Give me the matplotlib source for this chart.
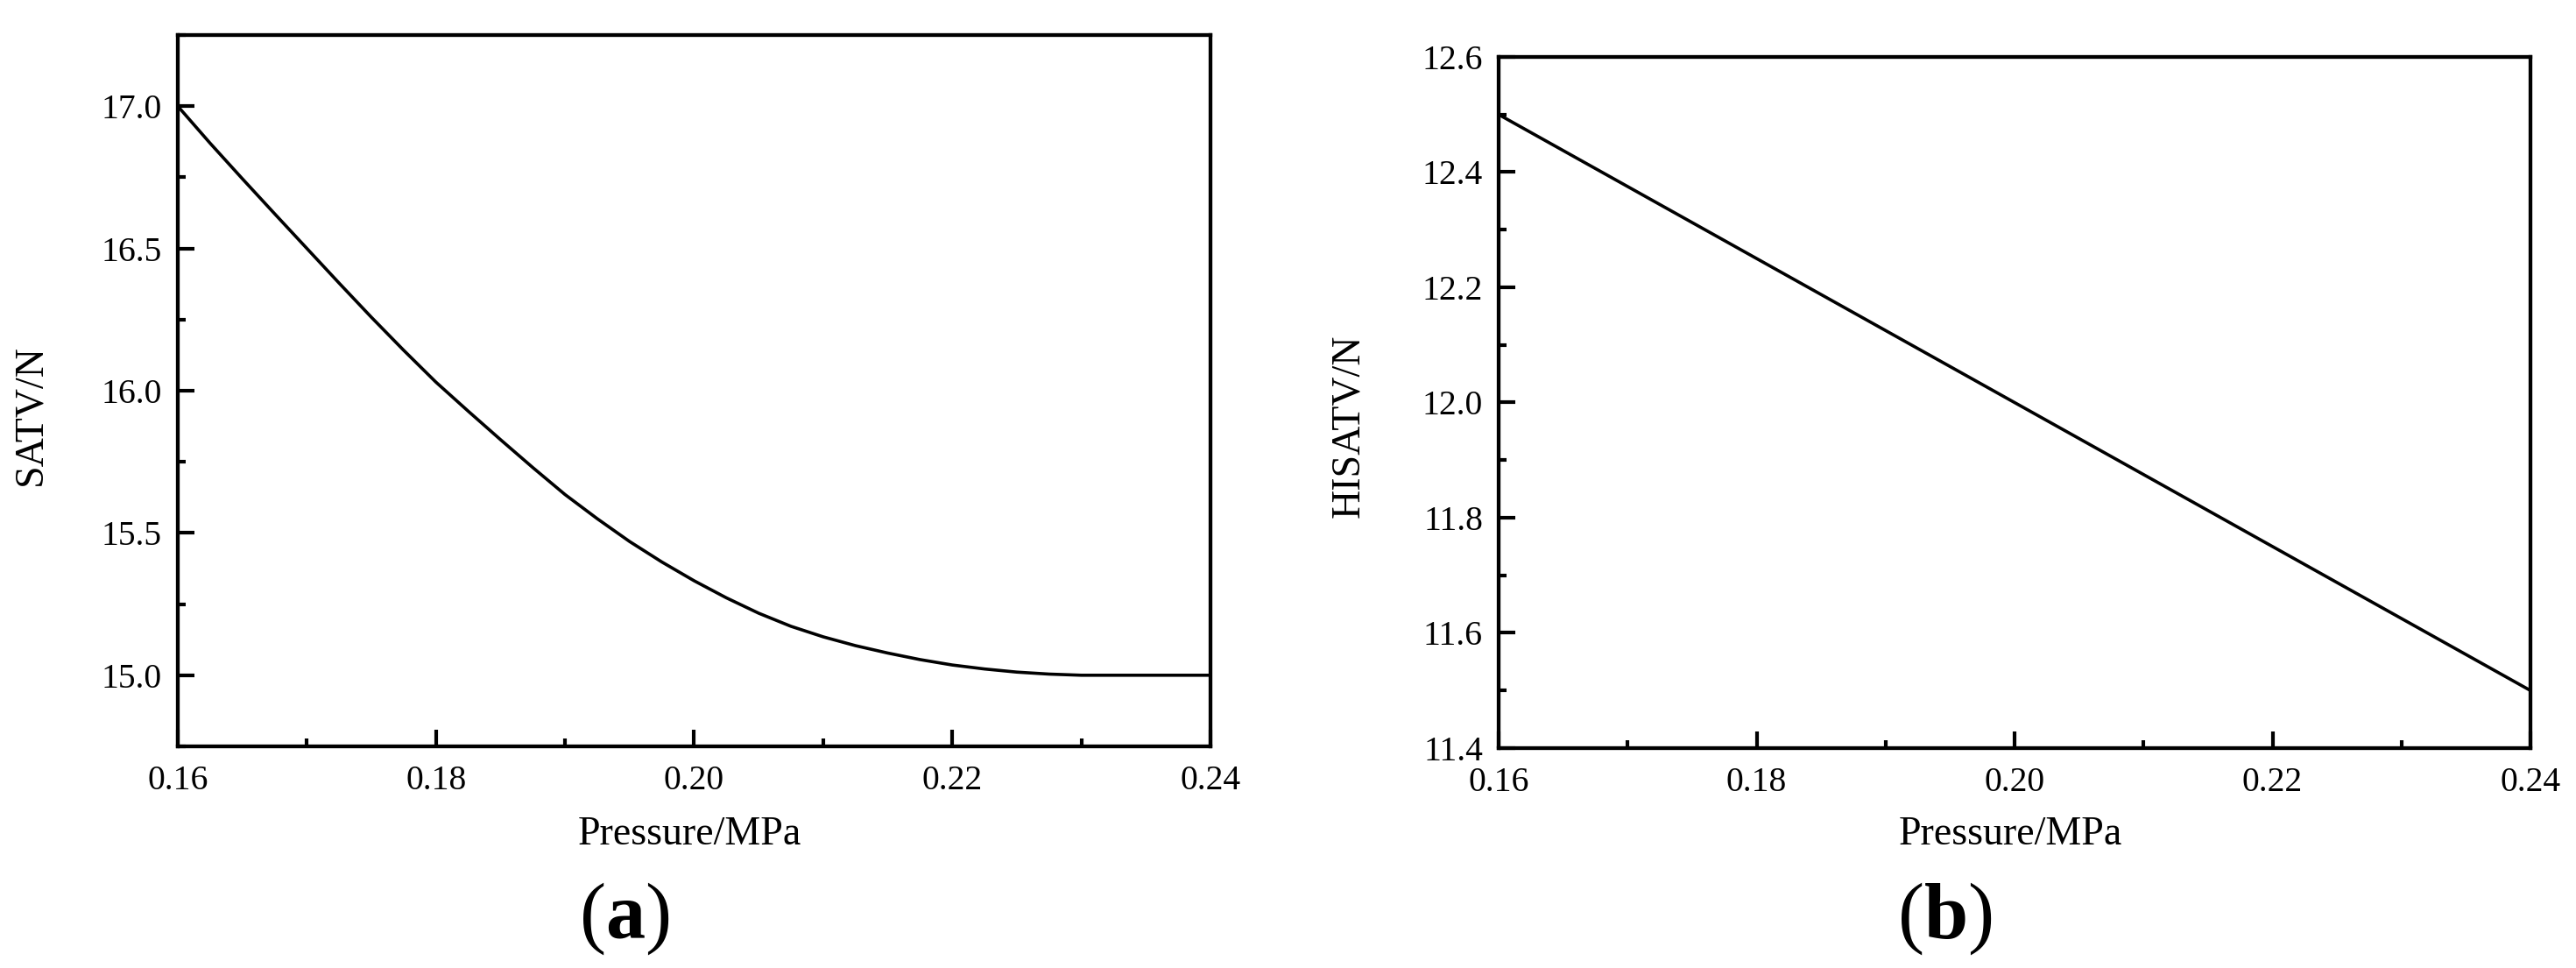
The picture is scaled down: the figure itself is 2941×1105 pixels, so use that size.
"""
SATV and HISATV against supply pressure, two panels side by side.
"""
import matplotlib
matplotlib.use("Agg")
import matplotlib.pyplot as plt
from matplotlib.ticker import MultipleLocator, FormatStrFormatter

# panel (a): SATV
pressure_a = [0.1600, 0.1625, 0.1650, 0.1675, 0.1700, 0.1725, 0.1750, 0.1775,
              0.1800, 0.1825, 0.1850, 0.1875, 0.1900, 0.1925, 0.1950, 0.1975,
              0.2000, 0.2025, 0.2050, 0.2075, 0.2100, 0.2125, 0.2150, 0.2175,
              0.2200, 0.2225, 0.2250, 0.2275, 0.2300, 0.2350, 0.2400]
satv = [17.000, 16.870, 16.745, 16.622, 16.500, 16.378, 16.258, 16.142,
        16.030, 15.928, 15.828, 15.730, 15.635, 15.550, 15.470, 15.398,
        15.332, 15.272, 15.218, 15.172, 15.135, 15.104, 15.078, 15.055,
        15.036, 15.022, 15.011, 15.004, 15.000, 15.000, 15.000]

# panel (b): HISATV, a straight line
pressure_b = [0.16, 0.18, 0.20, 0.22, 0.24]
hisatv = [12.50, 12.25, 12.00, 11.75, 11.50]

x_ticks = [0.16, 0.18, 0.20, 0.22, 0.24]

plt.rcParams["font.family"] = ["Liberation Serif", "DejaVu Serif"]
plt.rcParams["mathtext.fontset"] = "custom"
plt.rcParams["mathtext.rm"] = "Liberation Serif"
plt.rcParams["mathtext.bf"] = "Liberation Serif:bold"

TICK_SIZE = 28.5
LABEL_SIZE = 33


def style_axes(ax, ylim, major, minor, yfmt):
    ax.set_xlim(0.16, 0.24)
    ax.set_ylim(*ylim)
    ax.set_xticks(x_ticks)
    ax.xaxis.set_minor_locator(MultipleLocator(0.01))
    ax.xaxis.set_major_formatter(FormatStrFormatter("%.2f"))
    ax.yaxis.set_major_locator(MultipleLocator(major))
    ax.yaxis.set_minor_locator(MultipleLocator(minor))
    ax.yaxis.set_major_formatter(FormatStrFormatter(yfmt))
    for s in ax.spines.values():
        s.set_linewidth(3.1)
    ax.tick_params(which="both", direction="in", top=False, right=False,
                   width=3.0, labelsize=TICK_SIZE)
    ax.tick_params(which="major", length=13.5)
    ax.tick_params(which="minor", length=6.5)
    ax.tick_params(axis="x", which="major", pad=15)
    ax.tick_params(axis="y", which="major", pad=13)


fig = plt.figure(figsize=(29.41, 11.05), dpi=100)
ax_a = fig.add_axes([0.06902, 0.22896, 0.40088, 0.73484])
ax_b = fig.add_axes([0.58178, 0.22715, 0.40054, 0.71403])

ax_a.plot(pressure_a, satv, color="black", linewidth=2.6)
style_axes(ax_a, (14.75, 17.25), 0.5, 0.25, "%.1f")
ax_a.set_xlabel("Pressure/MPa", fontsize=LABEL_SIZE)
ax_a.set_ylabel("SATV/N", fontsize=LABEL_SIZE)
ax_a.xaxis.set_label_coords(0.4958, -0.124)
ax_a.xaxis.label.set_va("center")
ax_a.yaxis.set_label_coords(-0.1425, 0.4655)
ax_a.yaxis.label.set_va("center")

ax_b.plot(pressure_b, hisatv, color="black", linewidth=2.6)
style_axes(ax_b, (11.4, 12.6), 0.2, 0.1, "%.1f")
ax_b.set_xlabel("Pressure/MPa", fontsize=LABEL_SIZE)
ax_b.set_ylabel("HISATV/N", fontsize=LABEL_SIZE)
ax_b.xaxis.set_label_coords(0.4958, -0.125)
ax_b.xaxis.label.set_va("center")
ax_b.yaxis.set_label_coords(-0.145, 0.466)
ax_b.yaxis.label.set_va("center")

fig.text(713 / 2941, 0.0308, r"($\mathbf{a}$)", fontsize=65,
         ha="center", va="baseline")
fig.text(2220 / 2941, 0.0308, r"($\mathbf{b}$)", fontsize=65,
         ha="center", va="baseline")

fig.savefig("out.png", dpi=100)
